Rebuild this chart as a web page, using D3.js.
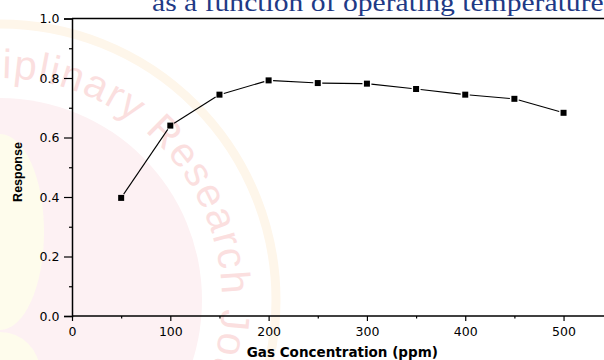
<!DOCTYPE html>
<html>
<head>
<meta charset="utf-8">
<script src="https://cdn.jsdelivr.net/npm/d3@7/dist/d3.min.js"></script>
<style>
  html, body { margin: 0; padding: 0; background: #ffffff; }
  svg { display: block; }
</style>
</head>
<body>
<svg id="chart" width="604" height="360"></svg>
<script>
// Gas concentration (ppm) and measured sensor response
const concentration = [50, 100, 150, 200, 250, 300, 350, 400, 450, 500];
const response = [0.397, 0.640, 0.744, 0.792, 0.783, 0.781, 0.763, 0.744, 0.730, 0.683];

const xTicks = [0, 100, 200, 300, 400, 500];
const xMinorTicks = [50, 150, 250, 350, 450, 550];
const yTicks = [0.0, 0.2, 0.4, 0.6, 0.8, 1.0];
const yMinorTicks = [0.1, 0.3, 0.5, 0.7, 0.9];

const titleText = "as a function of operating temperature";
const xLabel = "Gas Concentration (ppm)";
const yLabel = "Response";
const watermarkText = "Multidisciplinary Research Journal";

const W = 604, H = 360;
const svg = d3.select("#chart");

// ---- faint journal seal in the background ----
const seal = svg.append("g").attr("class", "seal");
const cx = 0, cy = 300;
seal.append("circle").attr("cx", cx).attr("cy", cy).attr("r", 276)
  .attr("fill", "none").attr("stroke", "#fef6ea").attr("stroke-width", 9);
seal.append("circle").attr("cx", cx).attr("cy", cy).attr("r", 202)
  .attr("fill", "#fdf1f3");
seal.append("ellipse").attr("cx", 0).attr("cy", 232).attr("rx", 44).attr("ry", 98)
  .attr("fill", "#fefcec");
seal.append("ellipse").attr("cx", 0).attr("cy", 372).attr("rx", 40).attr("ry", 40)
  .attr("fill", "#fefcec");

const rText = 222;
const defs = svg.append("defs");
defs.append("path").attr("id", "sealArc")
  .attr("d", `M ${cx - rText},${cy} A ${rText} ${rText} 0 1 1 ${cx + rText},${cy} A ${rText} ${rText} 0 1 1 ${cx - rText},${cy}`);
const sealFont = "41px 'Liberation Sans', Arial, sans-serif";
const sealSpacing = 1.5;
const probe = svg.append("text").style("font", sealFont)
  .style("letter-spacing", sealSpacing + "px").text("Multidisc");
const leadLen = probe.node().getComputedTextLength();
probe.remove();
seal.append("text").style("font", sealFont).style("letter-spacing", sealSpacing + "px")
  .attr("fill", "#fbdfdf")
  .append("textPath").attr("href", "#sealArc")
  .attr("startOffset", rText * Math.PI / 2 + 2 - leadLen)
  .text(watermarkText);

// ---- scales ----
const x = d3.scaleLinear().domain([0, 550]).range([72, 612.7]);
const y = d3.scaleLinear().domain([0, 1]).range([316, 18.5]);

const tickFont = "12.5px 'DejaVu Sans', sans-serif";

// frame top edge
svg.append("line").attr("x1", x(0)).attr("x2", W).attr("y1", y(1)).attr("y2", y(1))
  .attr("stroke", "#000").attr("stroke-width", 1.5);

// x axis
const xAxis = svg.append("g").attr("transform", `translate(0,${y(0)})`)
  .call(d3.axisBottom(x).tickValues(xTicks).tickFormat(d3.format("d")).tickSize(5).tickPadding(6));
svg.append("g").attr("transform", `translate(0,${y(0)})`)
  .call(d3.axisBottom(x).tickValues(xMinorTicks).tickFormat("").tickSize(2.5))
  .call(g => g.select(".domain").remove());

// y axis
const yAxis = svg.append("g").attr("transform", `translate(${x(0)},0)`)
  .call(d3.axisLeft(y).tickValues(yTicks).tickFormat(d3.format(".1f")).tickSize(8).tickPadding(4.5));
svg.append("g").attr("transform", `translate(${x(0)},0)`)
  .call(d3.axisLeft(y).tickValues(yMinorTicks).tickFormat("").tickSize(3))
  .call(g => g.select(".domain").remove());

svg.selectAll(".tick line").attr("stroke", "#000").attr("stroke-width", 1.2);
svg.selectAll(".domain").attr("stroke", "#000").attr("stroke-width", 1.5);
xAxis.select(".domain").attr("d", `M${x(0)},0H${W}`);
svg.selectAll(".tick text").style("font", tickFont).attr("fill", "#000");

// axis titles
svg.append("text").attr("x", x(275)).attr("y", 357).attr("text-anchor", "middle")
  .style("font", "bold 13.5px 'DejaVu Sans', sans-serif").text(xLabel);
svg.append("text").attr("transform", "translate(22,172) rotate(-90)").attr("text-anchor", "middle")
  .style("font", "bold 12.5px 'Liberation Sans', Arial, sans-serif").text(yLabel);

// ---- data line: segments stop short of the markers ----
const pts = concentration.map((c, i) => [x(c), y(response[i])]);
const gap = 4.5;
const segs = d3.pairs(pts).map(([a, b]) => {
  const dx = b[0] - a[0], dy = b[1] - a[1], L = Math.hypot(dx, dy);
  const ux = dx / L, uy = dy / L;
  return [a[0] + ux * gap, a[1] + uy * gap, b[0] - ux * gap, b[1] - uy * gap];
});
svg.append("g").selectAll("line").data(segs).join("line")
  .attr("x1", d => d[0]).attr("y1", d => d[1]).attr("x2", d => d[2]).attr("y2", d => d[3])
  .attr("stroke", "#000").attr("stroke-width", 1.1);

const ms = 6;
svg.append("g").selectAll("rect").data(concentration).join("rect")
  .attr("x", (d, i) => x(d) - ms / 2).attr("y", (d, i) => y(response[i]) - ms / 2)
  .attr("width", ms).attr("height", ms).attr("fill", "#000");

// ---- heading (partly above the top edge), widened to span the plot ----
const title = svg.append("text").attr("x", 0).attr("y", 0)
  .style("font-family", "'Liberation Serif', 'Times New Roman', serif")
  .style("font-size", "25px").attr("fill", "#1f3a86").text(titleText);
const tw = title.node().getComputedTextLength();
title.attr("transform", `translate(152,10.5) scale(${(452 / tw).toFixed(4)},1)`);
</script>
</body>
</html>
